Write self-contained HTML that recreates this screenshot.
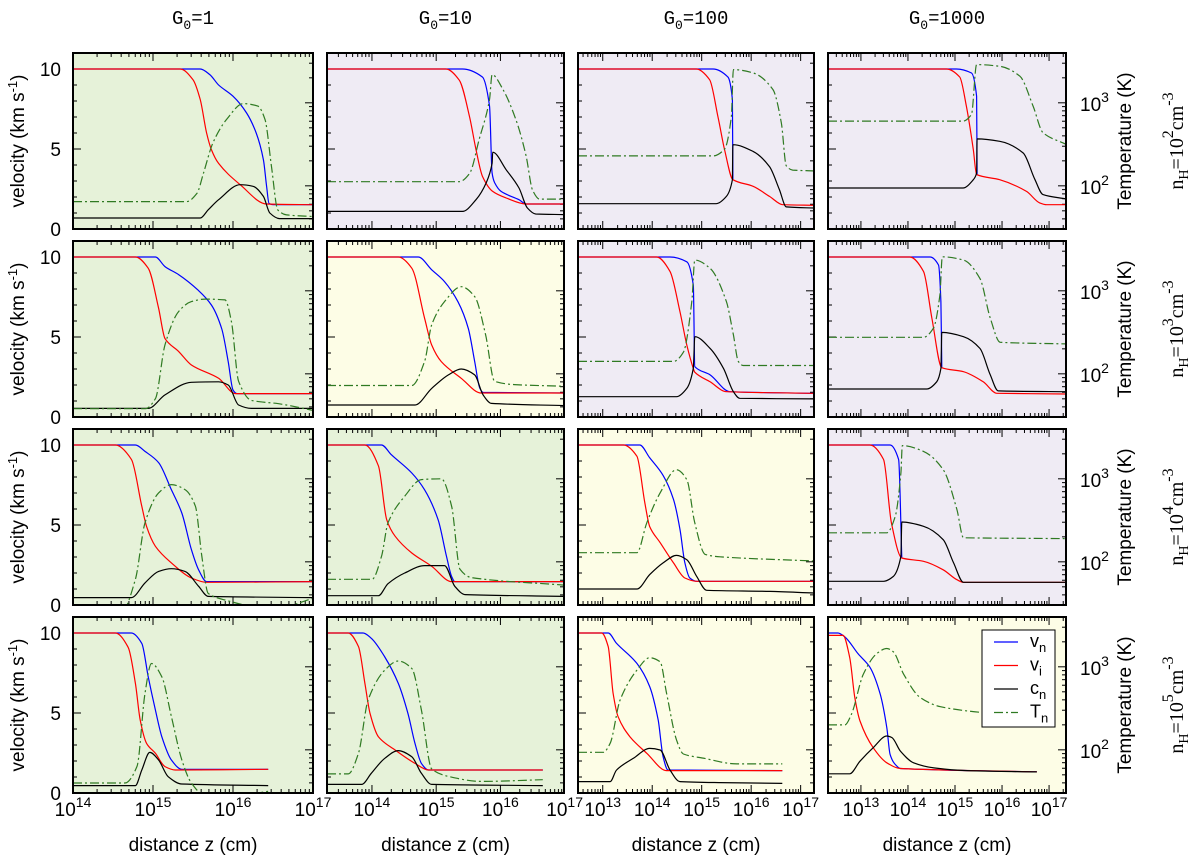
<!DOCTYPE html>
<html><head><meta charset="utf-8"><style>
html,body{margin:0;padding:0;background:#fff;}
svg{display:block;font-family:"Liberation Sans",sans-serif;}
</style></head><body>
<svg id="fig" width="1200" height="859" viewBox="0 0 1200 859" xmlns="http://www.w3.org/2000/svg"></svg>
<script>
// ---- data: [log10 z, value]; v in km/s, T as log10(K) ----
const p11_vn=[[14,10],[15.59,10],[15.71,9.65],[15.82,9.0],[16.0,8.3],[16.17,7.25],[16.29,6.0],[16.38,4.33],[16.42,2.67],[16.45,1.6],[16.5,1.52],[17,1.52]];
const p11_vi=[[14,10],[15.34,10],[15.5,9.33],[15.59,8.1],[15.67,6.0],[15.73,4.96],[15.82,4.1],[16.09,2.77],[16.42,1.56],[17,1.52]];
const p11_cn=[[14,0.69],[15.59,0.69],[15.69,1.2],[15.82,1.83],[16.09,2.77],[16.25,2.67],[16.38,2.04],[16.46,1.0],[16.58,0.65],[17,0.65]];
const p11_Tn=[[14,1.81],[15.42,1.81],[15.55,1.91],[15.63,2.15],[15.75,2.52],[15.92,2.8],[16.13,2.99],[16.31,2.96],[16.4,2.8],[16.48,2.24],[16.56,1.71],[16.67,1.65],[17,1.63]];

const p12_vn=[[13.3,10],[15.41,10],[15.72,9.5],[15.83,7.7],[15.87,3.5],[15.91,2.9],[16.01,2.35],[16.29,1.83],[16.4,1.56],[16.99,1.56]];
const p12_vi=[[13.3,10],[15.15,10],[15.36,9.3],[15.52,7.0],[15.62,4.96],[15.72,3.3],[15.88,2.35],[16.09,1.94],[16.4,1.56],[16.99,1.56]];
const p12_cn=[[13.3,1.1],[15.41,1.1],[15.62,1.83],[15.78,2.9],[15.87,4.1],[15.88,4.8],[16.09,3.7],[16.29,2.56],[16.42,1.31],[16.55,0.94],[16.99,0.9]];
const p12_Tn=[[13.3,2.05],[15.36,2.05],[15.52,2.15],[15.67,2.56],[15.83,3.04],[15.87,3.34],[16.04,3.16],[16.24,2.8],[16.4,2.36],[16.5,1.95],[16.61,1.84],[16.99,1.84]];

const p13_vn=[[12.5,10],[15.23,10],[15.53,9.5],[15.62,8.1],[15.63,3.08]];
const p13_vi=[[12.5,10],[14.89,10],[15.16,9.33],[15.33,7.0],[15.46,5.0],[15.63,3.08],[16.04,2.67],[16.37,2.04],[16.64,1.52],[17.27,1.48]];
const p13_cn=[[12.5,1.58],[15.29,1.58],[15.5,2.04],[15.62,3.08],[15.63,5.27],[16.04,4.85],[16.37,3.9],[16.57,2.46],[16.71,1.38],[17.27,1.31]];
const p13_Tn=[[12.5,2.36],[15.23,2.36],[15.46,2.44],[15.6,2.84],[15.64,3.4],[16.04,3.36],[16.44,3.16],[16.61,2.76],[16.71,2.24],[16.84,2.19],[17.27,2.18]];

const p14_vn=[[12.3,10],[15.03,10],[15.35,9.75],[15.46,8.3],[15.47,3.4]];
const p14_vi=[[12.3,10],[14.82,10],[15.1,9.5],[15.24,7.7],[15.39,4.96],[15.46,3.4],[15.95,3.08],[16.52,2.35],[16.8,1.63],[16.95,1.52],[17.36,1.52]];
const p14_cn=[[12.3,2.56],[15.17,2.56],[15.39,3.08],[15.46,3.5],[15.47,5.63],[15.95,5.48],[16.45,4.75],[16.7,3.08],[16.87,2.15],[17.36,1.88]];
const p14_Tn=[[12.3,2.78],[15.17,2.78],[15.35,2.86],[15.46,3.46],[15.95,3.44],[16.38,3.32],[16.66,2.96],[16.87,2.64],[17.36,2.5]];

const p21_vn=[[14,10],[15.03,10],[15.15,9.4],[15.32,8.9],[15.57,7.9],[15.73,7.0],[15.86,5.5],[15.94,3.46],[16.0,1.69],[16.05,1.46],[17,1.46]];
const p21_vi=[[14,10],[14.78,10],[14.94,9.3],[15.07,6.8],[15.15,4.9],[15.32,4.1],[15.48,3.25],[15.82,2.42],[16.03,1.46],[17,1.46]];
const p21_cn=[[14,0.54],[14.94,0.54],[15.15,1.38],[15.48,2.17],[15.82,2.2],[15.94,2.0],[16.07,0.75],[16.23,0.54],[17,0.54]];
const p21_Tn=[[14,1.58],[14.9,1.58],[15.03,1.7],[15.15,2.35],[15.32,2.75],[15.48,2.87],[15.65,2.9],[15.9,2.89],[15.98,2.63],[16.07,1.91],[16.23,1.68],[16.57,1.64],[17,1.56]];

const p22_vn=[[13.3,10],[14.72,10],[14.93,9.2],[15.13,8.46],[15.34,7.2],[15.5,5.54],[15.6,3.46],[15.68,1.79],[15.73,1.54],[16.99,1.5]];
const p22_vi=[[13.3,10],[14.41,10],[14.62,9.3],[14.82,6.17],[14.93,4.5],[15.08,3.46],[15.39,2.42],[15.7,1.5],[16.99,1.5]];
const p22_cn=[[13.3,0.75],[14.67,0.75],[14.93,1.79],[15.19,2.63],[15.39,3.0],[15.6,2.63],[15.73,1.38],[15.86,0.85],[16.99,0.71]];
const p22_Tn=[[13.3,1.86],[14.62,1.86],[14.82,2.15],[14.93,2.59],[15.13,2.87],[15.39,3.05],[15.6,2.93],[15.77,2.47],[15.91,1.91],[16.22,1.87],[16.99,1.85]];

const p23_vn=[[12.5,10],[14.36,10],[14.7,9.7],[14.83,8.25],[14.86,3.15],[15.17,2.63],[15.57,1.58],[17.27,1.48]];
const p23_vi=[[12.5,10],[14.09,10],[14.36,9.1],[14.56,6.6],[14.7,4.5],[14.83,3.04],[14.86,2.8],[15.17,2.2],[15.5,1.58],[17.27,1.48]];
const p23_cn=[[12.5,1.27],[14.49,1.27],[14.7,1.79],[14.83,3.04],[14.86,5.02],[15.17,4.29],[15.44,3.04],[15.64,1.58],[15.77,1.17],[17.27,1.13]];
const p23_Tn=[[12.5,2.15],[14.43,2.15],[14.63,2.26],[14.8,2.87],[14.86,3.37],[15.17,3.27],[15.5,2.87],[15.64,2.47],[15.74,2.15],[15.84,2.1],[17.27,2.1]];

const p24_vn=[[12.3,10],[14.47,10],[14.65,9.5],[14.7,7.2],[14.72,3.08]];
const p24_vi=[[12.3,10],[14.04,10],[14.33,9.1],[14.51,6.17],[14.72,3.08],[15.18,2.83],[15.6,2.2],[15.89,1.48],[17.36,1.44]];
const p24_cn=[[12.3,1.75],[14.4,1.75],[14.61,2.2],[14.7,3.04],[14.72,5.29],[15.18,5.02],[15.53,4.29],[15.75,2.63],[15.92,1.63],[17.36,1.58]];
const p24_Tn=[[12.3,2.44],[14.33,2.44],[14.54,2.55],[14.68,2.95],[14.73,3.41],[15.18,3.37],[15.53,3.15],[15.75,2.67],[15.96,2.38],[17.36,2.36]];

const p31_vn=[[14,10],[14.78,10],[14.9,9.6],[15.07,8.9],[15.23,7.2],[15.36,5.75],[15.48,3.46],[15.57,2.2],[15.67,1.46],[17,1.46]];
const p31_vi=[[14,10],[14.53,10],[14.73,9.1],[14.86,6.17],[14.92,4.9],[15.03,3.67],[15.23,2.63],[15.48,1.69],[15.67,1.42],[17,1.46]];
const p31_cn=[[14,0.46],[14.73,0.46],[14.9,1.38],[15.07,2.1],[15.23,2.27],[15.4,2.1],[15.57,1.17],[15.69,0.54],[17,0.46]];
const p31_Tn=[[14,1.4],[14.61,1.4],[14.78,1.79],[14.9,2.47],[15.07,2.83],[15.23,2.93],[15.4,2.87],[15.53,2.67],[15.61,2.07],[15.69,1.62],[15.9,1.54],[16.32,1.46],[16.61,1.46],[17,1.56]];

const p32_vn=[[13.3,10],[14.15,10],[14.3,9.4],[14.62,8.25],[14.82,7.2],[15.03,5.33],[15.16,3.04],[15.24,1.79],[15.29,1.46],[16.99,1.46]];
const p32_vi=[[13.3,10],[13.89,10],[14.1,8.7],[14.23,5.33],[14.36,4.3],[14.62,3.25],[14.93,2.42],[15.24,1.46],[16.99,1.46]];
const p32_cn=[[13.3,0.58],[14.1,0.58],[14.25,1.33],[14.51,2.0],[14.82,2.46],[15.13,2.46],[15.29,1.17],[15.45,0.65],[16.99,0.54]];
const p32_Tn=[[13.3,1.79],[14.0,1.79],[14.15,2.07],[14.25,2.47],[14.51,2.79],[14.77,2.99],[15.08,3.0],[15.24,2.67],[15.37,1.91],[15.55,1.81],[16.99,1.72]];

const p33_vn=[[12.5,10],[13.75,10],[13.95,9.2],[14.22,8.1],[14.43,6.6],[14.56,4.75],[14.66,2.63],[14.76,1.69],[14.9,1.48],[17.27,1.48]];
const p33_vi=[[12.5,10],[13.42,10],[13.69,9.3],[13.85,6.4],[13.95,4.9],[14.16,3.9],[14.43,2.63],[14.66,1.69],[14.9,1.48],[17.27,1.48]];
const p33_cn=[[12.5,1.0],[13.69,1.0],[13.95,1.9],[14.22,2.63],[14.49,3.1],[14.7,2.83],[14.9,1.79],[15.1,0.92],[16.38,0.85],[17.27,0.75]];
const p33_Tn=[[12.5,2.11],[13.69,2.11],[13.89,2.47],[14.16,2.83],[14.49,3.11],[14.7,2.99],[14.86,2.47],[15.07,2.09],[15.37,2.06],[17.27,2.01]];

const p34_vn=[[12.3,10],[13.62,10],[13.8,9.1],[13.87,2.94]];
const p34_vi=[[12.3,10],[13.19,10],[13.48,9.1],[13.65,5.1],[13.87,2.94],[14.33,2.73],[14.75,2.2],[15.04,1.58],[15.18,1.42],[17.36,1.42]];
const p34_cn=[[12.3,1.48],[13.48,1.48],[13.69,1.79],[13.85,3.04],[13.87,5.19],[14.33,4.92],[14.75,4.08],[14.97,2.63],[15.18,1.42],[17.36,1.42]];
const p34_Tn=[[12.3,2.35],[13.55,2.35],[13.73,2.55],[13.85,3.07],[13.88,3.4],[14.33,3.33],[14.75,3.11],[15.04,2.63],[15.18,2.29],[17.36,2.28]];

const p41_vn=[[14,10],[14.73,10],[14.86,9.35],[14.94,7.27],[15.03,5.19],[15.11,3.52],[15.23,2.06],[15.36,1.48],[16.44,1.48]];
const p41_vi=[[14,10],[14.53,10],[14.69,9.1],[14.78,6.85],[14.84,4.56],[14.92,3.1],[15.03,2.48],[15.15,1.65],[15.28,1.44],[16.44,1.48]];
const p41_cn=[[14,0.46],[14.78,0.46],[14.86,1.44],[14.96,2.54],[15.07,2.06],[15.19,1.02],[15.36,0.56],[16.44,0.46]];
const p41_Tn=[[14,1.6],[14.65,1.6],[14.8,1.8],[14.9,2.68],[14.98,3.04],[15.11,2.88],[15.23,2.4],[15.36,1.88],[15.48,1.6],[15.65,1.45],[16.0,1.44],[16.44,1.5]];

const p42_vn=[[13.3,10],[13.86,10],[13.99,9.67],[14.2,8.5],[14.41,6.85],[14.56,4.98],[14.67,3.1],[14.77,1.85],[14.88,1.44],[16.66,1.44]];
const p42_vi=[[13.3,10],[13.63,10],[13.79,9.15],[13.89,6.85],[13.97,4.98],[14.1,3.52],[14.36,2.69],[14.67,1.85],[14.88,1.44],[16.66,1.44]];
const p42_cn=[[13.3,0.54],[13.84,0.54],[13.99,1.23],[14.2,2.17],[14.41,2.65],[14.62,2.27],[14.77,1.23],[14.93,0.54],[16.66,0.46]];
const p42_Tn=[[13.3,1.71],[13.63,1.71],[13.79,1.96],[13.94,2.6],[14.2,2.96],[14.41,3.07],[14.62,2.98],[14.77,2.48],[14.93,1.77],[15.19,1.68],[15.7,1.62],[16.66,1.64]];

const p43_vn=[[12.5,10],[13.11,10],[13.28,9.35],[13.69,8.1],[13.95,6.65],[14.12,4.56],[14.22,2.27],[14.32,1.44],[16.63,1.4]];
const p43_vi=[[12.5,10],[12.98,10],[13.11,9.15],[13.21,6.23],[13.31,4.77],[13.55,3.52],[13.89,2.48],[14.29,1.4],[16.63,1.4]];
const p43_cn=[[12.5,0.71],[13.15,0.71],[13.28,1.44],[13.62,2.17],[13.95,2.79],[14.16,2.69],[14.36,1.44],[14.56,0.71],[15.37,0.65],[16.63,0.6]];
const p43_Tn=[[12.5,1.97],[13.01,1.97],[13.15,2.08],[13.35,2.6],[13.69,2.96],[13.95,3.11],[14.16,3.06],[14.29,2.68],[14.49,2.12],[14.63,1.95],[15.03,1.9],[15.71,1.83],[16.63,1.83]];

const p44_vn=[[12.3,10],[12.51,10],[12.66,9.75],[12.94,8.7],[13.19,7.86],[13.41,6.18],[13.55,4.09],[13.62,2.41],[13.73,1.78],[13.84,1.53],[16.74,1.32]];
const p44_vi=[[12.3,9.85],[12.62,9.85],[12.76,8.5],[12.87,5.97],[12.98,4.5],[13.26,2.83],[13.55,1.89],[13.84,1.53],[16.74,1.32]];
const p44_cn=[[12.3,1.2],[12.76,1.2],[12.98,1.99],[13.26,2.83],[13.55,3.56],[13.66,3.46],[13.84,2.62],[14.12,1.89],[14.55,1.57],[15.26,1.4],[16.74,1.32]];
const p44_Tn=[[12.3,2.3],[12.66,2.3],[12.8,2.43],[13.05,2.91],[13.34,3.16],[13.55,3.22],[13.69,3.18],[13.91,2.91],[14.26,2.63],[14.69,2.52],[15.59,2.45],[16.74,2.41]];

const colTitles=["1","10","100","1000"];
const rowDensityExp=["2","3","4","5"];
const xTickDecades=[[14,15,16,17],[14,15,16,17],[13,14,15,16,17],[13,14,15,16,17]];
const vTicks=[0,5,10];
const tTickExp=[2,3];
const legendLabels=[["v","n"],["v","i"],["c","n"],["T","n"]];

// ---- layout ----
const colPx=[[73,313],[327,564],[578,814],[828,1066]];
const colLz=[[14,17],[13.3,16.99],[12.5,17.27],[12.3,17.36]];
const rowTop=[53,241,429,617], PH=176;
const V_MAX=11, LT_MIN=1.48, LT_MAX=3.6;
const GREEN="#e6f2d9", LAV="#efebf4", YEL="#fdfde6";
const bgs=[[GREEN,LAV,LAV,LAV],[GREEN,YEL,LAV,LAV],[GREEN,GREEN,YEL,LAV],[GREEN,GREEN,YEL,YEL]];
const panels=[
 [p11_vn,p11_vi,p11_cn,p11_Tn],[p12_vn,p12_vi,p12_cn,p12_Tn],[p13_vn,p13_vi,p13_cn,p13_Tn],[p14_vn,p14_vi,p14_cn,p14_Tn],
 [p21_vn,p21_vi,p21_cn,p21_Tn],[p22_vn,p22_vi,p22_cn,p22_Tn],[p23_vn,p23_vi,p23_cn,p23_Tn],[p24_vn,p24_vi,p24_cn,p24_Tn],
 [p31_vn,p31_vi,p31_cn,p31_Tn],[p32_vn,p32_vi,p32_cn,p32_Tn],[p33_vn,p33_vi,p33_cn,p33_Tn],[p34_vn,p34_vi,p34_cn,p34_Tn],
 [p41_vn,p41_vi,p41_cn,p41_Tn],[p42_vn,p42_vi,p42_cn,p42_Tn],[p43_vn,p43_vi,p43_cn,p43_Tn],[p44_vn,p44_vi,p44_cn,p44_Tn]];
const seriesNames=["vn","vi","cn","Tn"];
const seriesColors=["#0000ff","#ff0000","#000000","#2f7a22"];

const NS="http://www.w3.org/2000/svg";
const svg=document.getElementById("fig");
function mk(tag,attrs,parent){const e=document.createElementNS(NS,tag);for(const k in attrs)e.setAttribute(k,attrs[k]);(parent||svg).appendChild(e);return e;}
function X(c,lz){const [a,b]=colLz[c],[p,q]=colPx[c];return p+(lz-a)/(b-a)*(q-p);}
function YV(r,v){return rowTop[r]+PH-v/V_MAX*PH;}
function YT(r,lt){return rowTop[r]+PH-(lt-LT_MIN)/(LT_MAX-LT_MIN)*PH;}
function smoothPath(P){
  const n=P.length; if(n<2)return "";
  const d=[],m=[];
  for(let i=0;i<n-1;i++){const dx=Math.max(P[i+1][0]-P[i][0],1e-6);d.push((P[i+1][1]-P[i][1])/dx);}
  m[0]=d[0]; m[n-1]=d[n-2];
  for(let i=1;i<n-1;i++){ if(d[i-1]*d[i]<=0)m[i]=0; else { m[i]=2/(1/d[i-1]+1/d[i]); } }
  let s="M"+P[0][0].toFixed(1)+","+P[0][1].toFixed(1);
  for(let i=0;i<n-1;i++){
    const dx=P[i+1][0]-P[i][0];
    const c1x=P[i][0]+dx/3, c1y=P[i][1]+m[i]*dx/3, c2x=P[i+1][0]-dx/3, c2y=P[i+1][1]-m[i+1]*dx/3;
    s+=" C"+c1x.toFixed(1)+","+c1y.toFixed(1)+" "+c2x.toFixed(1)+","+c2y.toFixed(1)+" "+P[i+1][0].toFixed(1)+","+P[i+1][1].toFixed(1);
  }
  return s;
}
function richText(parent,x,y,parts,attrs,supShift){
  const t=mk("text",Object.assign({x:x,y:y},attrs),parent);
  let shift=0; const up=supShift||-7;
  parts.forEach(p=>{const s=mk("tspan",{},t);s.textContent=p[0];
    const target=p[1]==="sup"?up:(p[1]==="sub"?5:0);
    if(target!==shift){s.setAttribute("dy",target-shift);shift=target;}
    if(p[1])s.setAttribute("font-size",p[2]||12);});
  return t;
}

const defs=mk("defs",{});
for(let r=0;r<4;r++)for(let c=0;c<4;c++){
  const i=r*4+c, x0=colPx[c][0], x1=colPx[c][1], y0=rowTop[r], y1=y0+PH;
  const cp=mk("clipPath",{id:"cp"+i},defs);
  mk("rect",{x:x0,y:y0,width:x1-x0,height:PH},cp);
  const g=mk("g",{});
  
  
  const bg=mk("rect",{x:x0,y:y0,width:x1-x0,height:PH,fill:bgs[r][c]},g);
  
  
  const tk=mk("g",{stroke:"#000","stroke-width":1},g);
  
  
  for(let d=Math.floor(colLz[c][0]);d<=Math.ceil(colLz[c][1]);d++)for(let m=1;m<=9;m++){
    const lz=d+Math.log10(m); if(lz<colLz[c][0]||lz>colLz[c][1])continue;
    const x=X(c,lz), L=m===1?8:4;
    mk("line",{x1:x,y1:y1,x2:x,y2:y1-L},tk); mk("line",{x1:x,y1:y0,x2:x,y2:y0+L},tk);
  }
  for(let v=0;v<=V_MAX;v++){const y=YV(r,v),L=v%5===0?8:4; mk("line",{x1:x0,y1:y,x2:x0+L,y2:y},tk);}
  for(let n=1;n<=3;n++)for(let m=1;m<=9;m++){const lt=n+Math.log10(m); if(lt<LT_MIN||lt>LT_MAX)continue;
    const y=YT(r,lt),L=m===1?8:4; mk("line",{x1:x1,y1:y,x2:x1-L,y2:y},tk);}
  const cg=mk("g",{"clip-path":"url(#cp"+i+")",fill:"none","stroke-width":1.2},g);
  panels[i].forEach((data,s)=>{
    const P=data.map(p=>[X(c,p[0]),(s===3?YT(r,p[1]):YV(r,p[1]))]);
    const pl=mk("path",{d:smoothPath(P),stroke:seriesColors[s]},cg);
    if(s===3)pl.setAttribute("stroke-dasharray","9,3,2,3");
    
    
  });
  const fr=mk("rect",{x:x0,y:y0,width:x1-x0,height:PH,fill:"none",stroke:"#000","stroke-width":2},g);
  
  
  if(c===0){
    vTicks.forEach(v=>{const t=mk("text",{x:61,y:YV(r,v)+7,"text-anchor":"end","font-size":19},g);t.textContent=String(v);
      });
    const yl=richText(g,0,0,[["velocity (km s"],["-1","sup",13],[")"]],{"font-size":19,"text-anchor":"middle",transform:"translate(24,"+(y0+PH/2)+") rotate(-90)"});
    
  }
  if(c===3){
    tTickExp.forEach(n=>{const t=richText(g,1080,YT(r,n)+8,[["10"],[String(n),"sup",14]],{"font-size":19},-9);
      });
    const tl=mk("text",{"font-size":19,"text-anchor":"middle",transform:"translate(1131,"+(y0+PH/2)+") rotate(-90)"},g);
    tl.textContent="Temperature (K)";
    
    const rl=richText(g,0,0,[["n"],["H","sub",14],["=10"],[rowDensityExp[r],"sup",16],["cm"],["-3","sup",16]],{"font-size":20,"text-anchor":"middle","font-family":"Liberation Serif, serif",transform:"translate(1183,"+(y0+PH/2)+") rotate(-90)"},-10);
    
  }
  if(r===0){
    const ct=richText(g,(x0+x1)/2,24,[["G"],["0","sub",13],["="+colTitles[c]]],{"font-size":19,"font-family":"Liberation Mono, monospace","text-anchor":"middle"});
    
  }
  if(r===3){
    xTickDecades[c].forEach(d=>{const t=richText(g,X(c,d),816,[["10"],[String(d),"sup",14]],{"font-size":19,"text-anchor":"middle"},-9);
      });
    const xl=mk("text",{x:(x0+x1)/2,y:851,"text-anchor":"middle","font-size":19},g);
    xl.textContent="distance z (cm)";
    
  }
}
const lg=mk("g",{});


mk("rect",{x:982,y:630,width:73,height:97,fill:"#fff",stroke:"#000","stroke-width":1},lg);
legendLabels.forEach((lab,s)=>{
  const y=642+s*23.5;
  const ln=mk("line",{x1:994,y1:y,x2:1018,y2:y,stroke:seriesColors[s],"stroke-width":1.2},lg);
  if(s===3)ln.setAttribute("stroke-dasharray","9,3,2,3");
  const t=richText(lg,1030,y+5,[[lab[0]],[lab[1],"sub",13]],{"font-size":18});
  
  
});
</script>
</body></html>
